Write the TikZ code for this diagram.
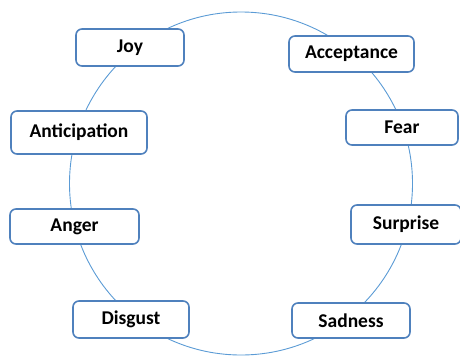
\documentclass[tikz,border=0pt]{standalone}
\usepackage{fontspec}
\setmainfont{Carlito}
\definecolor{boxblue}{RGB}{79,129,189}
\definecolor{ringblue}{RGB}{91,155,213}
\begin{document}
\begin{tikzpicture}[x=1pt, y=-1pt,
  emotion/.style={draw=boxblue, line width=1.6pt, rounded corners=6pt,
    fill=white, inner sep=0pt, font=\bfseries\fontsize{19.5}{22}\selectfont}]
  \useasboundingbox (0,0) rectangle (460,356);
  \draw[ringblue, line width=0.9pt] (241,183.5) circle (171.5pt);
  \foreach \n/\x/\y/\w/\h in {Joy/130/47.5/108/37, Acceptance/351.5/54/125/36,
      Anticipation/79/132.5/136/43, Fear/402/127.5/112/35,
      Anger/74.5/226.5/129/35, Surprise/406/224.5/110/39,
      Disgust/131/319.5/116/37, Sadness/351/320.5/118/35}
    \node[emotion, minimum width=\w pt, minimum height=\h pt] (\n) at (\x,\y) {\n};
\end{tikzpicture}
\end{document}
